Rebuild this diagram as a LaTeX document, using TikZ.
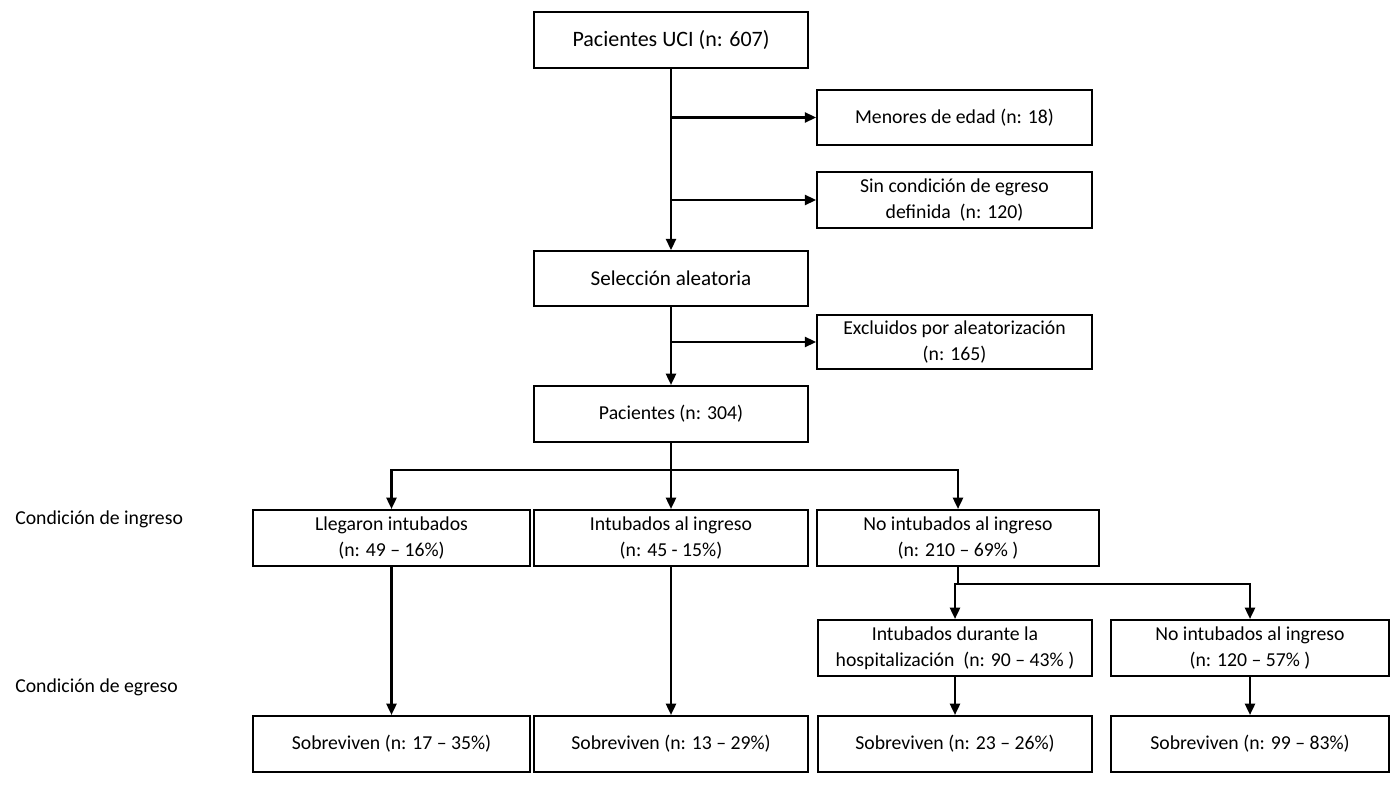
\documentclass[tikz,border=0pt]{standalone}
\usepackage{fontspec}
\setmainfont{Carlito}
\usetikzlibrary{arrows.meta}
\begin{document}
\begin{tikzpicture}[x=0.75pt,y=-0.75pt,
  box/.style={draw=black,line width=1.5pt,fill=white,inner sep=0pt,align=center,
    font=\fontsize{14.8}{19.5}\selectfont},
  bigbox/.style={box,font=\fontsize{16.5}{20}\selectfont},
  lbl/.style={anchor=west,inner sep=0pt,font=\fontsize{14.8}{19.5}\selectfont},
  conn/.style={line width=1.8pt,draw=black},
  arr/.style={conn,-{Triangle[length=8.5pt,width=7.5pt]}}]
\useasboundingbox (0,0) rectangle (1400,798);
% trunk boxes
\node[bigbox,minimum width=206pt,minimum height=42pt] (top) at (671,40) {Pacientes UCI (n: 607)};
\node[box,minimum width=206pt,minimum height=41pt] (men) at (954.5,117.5) {Menores de edad (n: 18)};
\node[box,minimum width=206pt,minimum height=42pt] (sin) at (954.5,200) {Sin condición de egreso\\definida\ \ (n: 120)};
\node[bigbox,minimum width=206pt,minimum height=41pt,font=\fontsize{15.8}{20}\selectfont] (sel) at (671,278.5) {Selección aleatoria};
\node[box,minimum width=206pt,minimum height=41pt] (exc) at (954.5,342) {Excluidos por aleatorización\\(n: 165)};
\node[box,minimum width=205.5pt,minimum height=42pt] (pac) at (671,414) {Pacientes (n: 304)};
% admission row
\node[box,minimum width=207.5pt,minimum height=42pt] (lle) at (391.5,538) {Llegaron intubados\\(n: 49 – 16\%)};
\node[box,minimum width=205.5pt,minimum height=42pt] (inta) at (671,538) {Intubados al ingreso\\(n: 45 - 15\%)};
\node[box,minimum width=211.5pt,minimum height=42pt] (noint) at (958,538) {No intubados al ingreso\\(n: 210 – 69\% )};
% second level
\node[box,minimum width=205.5pt,minimum height=42pt] (dur) at (955,648) {Intubados durante la\\hospitalización\ \ (n: 90 – 43\% )};
\node[box,minimum width=208.5pt,minimum height=42pt] (noi2) at (1250,648) {No intubados al ingreso\\(n: 120 – 57\% )};
% outcome row
\node[box,minimum width=207.5pt,minimum height=42pt] (s1) at (391.5,744) {Sobreviven (n: 17 – 35\%)};
\node[box,minimum width=205.5pt,minimum height=42pt] (s2) at (671,744) {Sobreviven (n: 13 – 29\%)};
\node[box,minimum width=205.5pt,minimum height=42pt] (s3) at (955,744) {Sobreviven (n: 23 – 26\%)};
\node[box,minimum width=208.5pt,minimum height=42pt] (s4) at (1250,744) {Sobreviven (n: 99 – 83\%)};
% side labels
\node[lbl] (ling) at (15,519) {Condición de ingreso};
\node[lbl] (leg) at (15,687) {Condición de egreso};
% connectors
\draw[arr] (top.south) -- (sel.north);
\draw[arr] (top.south |- men.west) -- (men.west);
\draw[arr] (top.south |- sin.west) -- (sin.west);
\draw[arr] (sel.south) -- (pac.north);
\draw[arr] (sel.south |- exc.west) -- (exc.west);
\coordinate (b1) at (671,470);
\draw[conn] (pac.south) -- (b1);
\draw[arr] (b1) -| (lle.north);
\draw[arr] (b1) -- (inta.north);
\draw[arr] (b1) -| (noint.north);
\coordinate (b2) at (958,584);
\draw[conn] (noint.south) -- (b2);
\draw[arr] (b2) -| (dur.north);
\draw[arr] (b2) -| (noi2.north);
\draw[arr] (lle.south) -- (s1.north);
\draw[arr] (inta.south) -- (s2.north);
\draw[arr] (dur.south) -- (s3.north);
\draw[arr] (noi2.south) -- (s4.north);
\end{tikzpicture}
\end{document}
